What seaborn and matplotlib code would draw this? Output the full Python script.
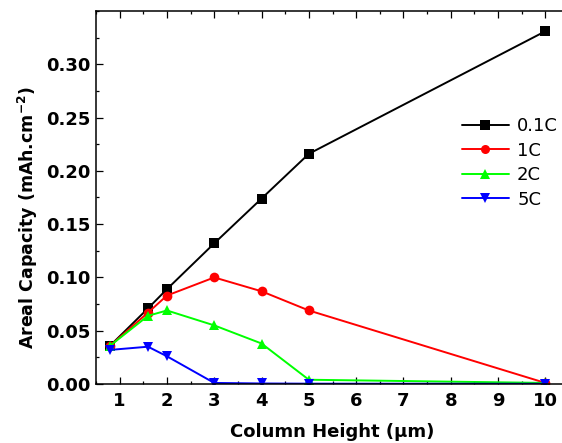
import pandas as pd
import matplotlib
matplotlib.use("Agg")
import matplotlib.pyplot as plt
import seaborn as sns
from matplotlib.lines import Line2D
from matplotlib.ticker import MultipleLocator

# column height (um)
heights = [0.8, 1.6, 2, 3, 4, 5, 10]
rates = ["0.1C", "1C", "2C", "5C"]

# areal capacity (mAh/cm2) per C-rate
cap_01c = [0.036, 0.071, 0.089, 0.132, 0.174, 0.216, 0.331]
cap_1c = [0.036, 0.067, 0.083, 0.100, 0.087, 0.069, 0.001]
cap_2c = [0.036, 0.064, 0.069, 0.055, 0.038, 0.004, 0.001]
cap_5c = [0.032, 0.035, 0.026, 0.001, 0.0005, 0.0003, 0.0002]

colors = ["#000000", "#ff0000", "#00ff00", "#0000ff"]
markers = ["s", "o", "^", "v"]


def build_frame():
    rows = []
    for rate, vals in zip(rates, [cap_01c, cap_1c, cap_2c, cap_5c]):
        for h, v in zip(heights, vals):
            rows.append({"height": h, "capacity": v, "rate": rate})
    return pd.DataFrame(rows)


def main():
    sns.set_style("ticks", {"axes.edgecolor": "black", "text.color": "black",
                            "axes.labelcolor": "black", "xtick.color": "black",
                            "ytick.color": "black"})
    plt.rcParams["font.family"] = ["DejaVu Sans"]
    plt.rcParams["mathtext.fontset"] = "dejavusans"

    df = build_frame()

    fig = plt.figure(figsize=(5.62, 4.43), dpi=100)
    ax = fig.add_axes([96 / 562, 59 / 443, 473 / 562, 373 / 443])

    sns.lineplot(
        data=df, x="height", y="capacity", hue="rate", style="rate",
        hue_order=rates, style_order=rates,
        palette=dict(zip(rates, colors)), markers=dict(zip(rates, markers)),
        dashes=False, markersize=7, markeredgewidth=0, linewidth=1.4, ax=ax,
        legend=False,
    )

    ax.set_xlim(0.5, 10.5)
    ax.set_ylim(0, 0.35)
    ax.xaxis.set_major_locator(MultipleLocator(1))
    ax.xaxis.set_minor_locator(MultipleLocator(0.5))
    ax.yaxis.set_minor_locator(MultipleLocator(0.025))
    ax.set_yticks([0, 0.05, 0.10, 0.15, 0.20, 0.25, 0.30])
    ax.set_yticklabels(["0.00", "0.05", "0.10", "0.15", "0.20", "0.25", "0.30"])

    ax.tick_params(which="both", direction="in", top=True, right=True,
                   labelsize=13, width=0.9, color="black", labelcolor="black")
    ax.tick_params(axis="x", pad=6)
    ax.tick_params(axis="y", pad=4)
    ax.tick_params(which="major", length=5)
    ax.tick_params(which="minor", length=2.5)
    for lab in ax.get_xticklabels() + ax.get_yticklabels():
        lab.set_fontweight("bold")
    for sp in ax.spines.values():
        sp.set_linewidth(1.1)
        sp.set_edgecolor("black")

    ax.set_xlabel("Column Height (\u03bcm)", fontsize=13, fontweight="bold",
                  labelpad=9, color="black")
    ax.set_ylabel("Areal Capacity (mAh.cm$^{\\mathbf{-2}}$)", fontsize=12.5,
                  fontweight="bold", color="black")
    ax.yaxis.set_label_coords(-0.118, 0.445)

    handles = [Line2D([], [], color=c, marker=m, markersize=6.5, markeredgewidth=0,
                      linewidth=1.4) for c, m in zip(colors, markers)]
    ax.legend(handles, rates, frameon=False, fontsize=13, loc="upper left",
              bbox_to_anchor=(462 / 562, 1 - 117 / 443), bbox_transform=fig.transFigure,
              borderpad=0, borderaxespad=0, handlelength=2.6, handletextpad=0.45,
              labelspacing=0.36, labelcolor="black")

    fig.savefig("out.png", dpi=100)
    plt.close(fig)


if __name__ == "__main__":
    main()
